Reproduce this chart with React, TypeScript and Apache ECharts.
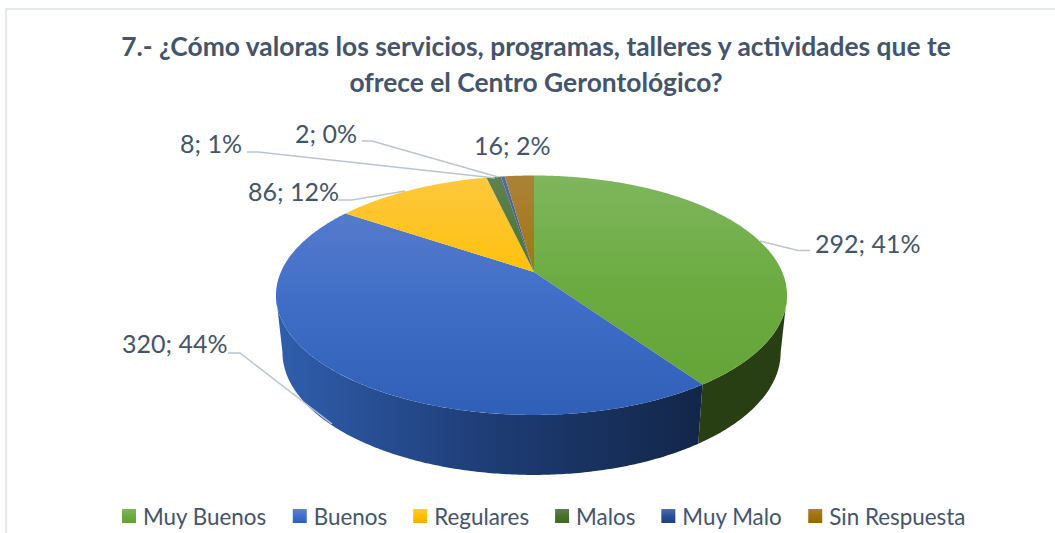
import React, { useEffect, useRef } from "react";
import * as echarts from "echarts";

const titleText = "7.- ¿Cómo valoras los servicios, programas, talleres y actividades que te\nofrece el Centro Gerontológico?";
const categories = ["Muy Buenos", "Buenos", "Regulares", "Malos", "Muy Malo", "Sin Respuesta"];
const seriesValues = [292, 320, 86, 8, 2, 16];
const percentLabels = ["41%", "44%", "12%", "1%", "0%", "2%"];

// Layout only (no data)
const APEX_X = 534, APEX_Y = 272;
const A = 115.2, K = 0.194, B_RIGHT = 248.2, B_LEFT = 253.1;
const BOTTOM_X = 0.975, BOTTOM_Y = 1.025, MID_Y = 295.2, DROP = 57;
const TEXT = "#44546A";
const LINE = "#B9C4D4";
const FONT = "Lato, Carlito, Calibri, sans-serif";

const topStops = [
  ["#80B65E", "#6AAA3E", "#63A336"],
  ["#5F80CE", "#416FC7", "#2F5FB6"],
  ["#FDC83F", "#FFC000", "#EDB200"],
  ["#5F8150", "#47702B", "#3E6A20"],
  ["#4F6DA8", "#2B4F96", "#1F3F80"],
  ["#AC8238", "#A07209", "#946800"],
];
const sideStops = [
  ["#2C4716", "#2A4314", "#283F13"],
  ["#2F5DAB", "#1E3C75", "#122648"],
  ["#9C7400", "#8A6600", "#7A5A00"],
  ["#2A4314", "#2A4314", "#2A4314"],
  ["#122648", "#122648", "#122648"],
  ["#6A4C00", "#6A4C00", "#6A4C00"],
];
const labelBoxes = [
  { x: 815, y: 243, leader: [[760, 241], [798, 250.5], [810, 250.5]] },
  { x: 122, y: 343, leader: [[332, 424], [240, 353], [228, 353]] },
  { x: 248, y: 191, leader: [[405, 191], [352, 200], [338, 200]] },
  { x: 180, y: 143, leader: [[495, 178], [258, 152], [247, 152]] },
  { x: 295, y: 133, leader: [[498, 177], [372, 141], [362, 141]] },
  { x: 474, y: 145, leader: null as number[][] | null },
];

const total = seriesValues.reduce((s, v) => s + v, 0);

function topPoint(theta: number): [number, number] {
  const u = Math.sin(theta), v = Math.cos(theta);
  const d = 1 + K * v;
  return [APEX_X + ((u < 0 ? B_LEFT : B_RIGHT) * u) / d, APEX_Y - (A * v) / d];
}
function bottomPoint(theta: number): [number, number] {
  const [x, y] = topPoint(theta);
  return [APEX_X + (x - APEX_X) * BOTTOM_X, MID_Y + (y - MID_Y) * BOTTOM_Y + DROP];
}
function arc(a0: number, a1: number, fn: (t: number) => [number, number]) {
  const n = Math.max(2, Math.ceil(Math.abs(a1 - a0) / 0.01));
  const pts: [number, number][] = [];
  for (let i = 0; i <= n; i++) pts.push(fn(a0 + ((a1 - a0) * i) / n));
  return pts;
}
function stopsOf(c: string[]) {
  return c.map((color, i) => ({ offset: i / (c.length - 1), color }));
}

function renderSlice(params: any, api: any) {
  const idx = params.seriesIndex;
  const before = seriesValues.slice(0, idx).reduce((s, v) => s + v, 0);
  const a0 = (before / total) * Math.PI * 2;
  const a1 = ((before + api.value(0)) / total) * Math.PI * 2;
  const children: any[] = [];

  // visible outer wall: only the near half of the rim
  const v0 = Math.acos(-K), v1 = Math.PI * 2 - v0;
  const s0 = Math.max(a0, v0), s1 = Math.min(a1, v1);
  if (s1 > s0) {
    const pts = [...arc(s0, s1, topPoint), ...arc(s1, s0, bottomPoint)];
    children.push({
      type: "polygon",
      shape: { points: pts },
      style: {
        fill: new echarts.graphic.LinearGradient(284, 0, 700, 0, stopsOf(sideStops[idx]), true),
      },
    });
  }
  // top face
  const top = [[APEX_X, APEX_Y], ...arc(a0, a1, topPoint)];
  children.push({
    type: "polygon",
    shape: { points: top },
    style: {
      fill: new echarts.graphic.LinearGradient(0, 175, 0, 415, stopsOf(topStops[idx]), true),
    },
  });
  const box = labelBoxes[idx];
  if (box.leader) {
    children.push({
      type: "polyline",
      shape: { points: box.leader },
      style: { fill: "none", stroke: LINE, lineWidth: 1.5 },
    });
  }
  children.push({
    type: "text",
    style: {
      text: `${api.value(0)}; ${percentLabels[idx]}`,
      x: box.x,
      y: box.y,
      fill: TEXT,
      font: `25px ${FONT}`,
      textAlign: "left",
      textVerticalAlign: "middle",
    },
  });
  return { type: "group", children };
}

export default function App() {
  const ref = useRef<HTMLDivElement>(null);
  useEffect(() => {
    if (!ref.current) return;
    const chart = echarts.init(ref.current, undefined, { renderer: "svg" });
    chart.setOption({
      animation: false,
      backgroundColor: "#FFFFFF",
      title: {
        text: titleText,
        left: 531,
        top: 23,
        textAlign: "center",
        textStyle: { fontFamily: FONT, fontSize: 26.4, fontWeight: "bold", color: TEXT, lineHeight: 36 },
      },
      legend: {
        left: 117,
        top: 500,
        icon: "rect",
        itemWidth: 14,
        itemHeight: 14,
        itemGap: 26,
        data: categories,
        selectedMode: false,
        textStyle: { fontFamily: FONT, fontSize: 22.4, color: TEXT, padding: [0, 0, 0, 2] },
      },
      graphic: [
        {
          type: "polyline",
          silent: true,
          shape: { points: [[6, 533], [6, 9], [1055, 9]] },
          style: { fill: "none", stroke: "#E4E9EF", lineWidth: 2 },
        },
      ],
      series: categories.map((name, i) => ({
        type: "custom",
        name,
        coordinateSystem: "none",
        silent: true,
        data: [[seriesValues[i]]],
        itemStyle: {
          color: new echarts.graphic.LinearGradient(0, 0, 0, 1, stopsOf(topStops[i])),
        },
        renderItem: renderSlice,
      })),
    });
    return () => chart.dispose();
  }, []);
  return <div ref={ref} style={{ position: "absolute", left: 0, top: 0, width: 1055, height: 533 }} />;
}
